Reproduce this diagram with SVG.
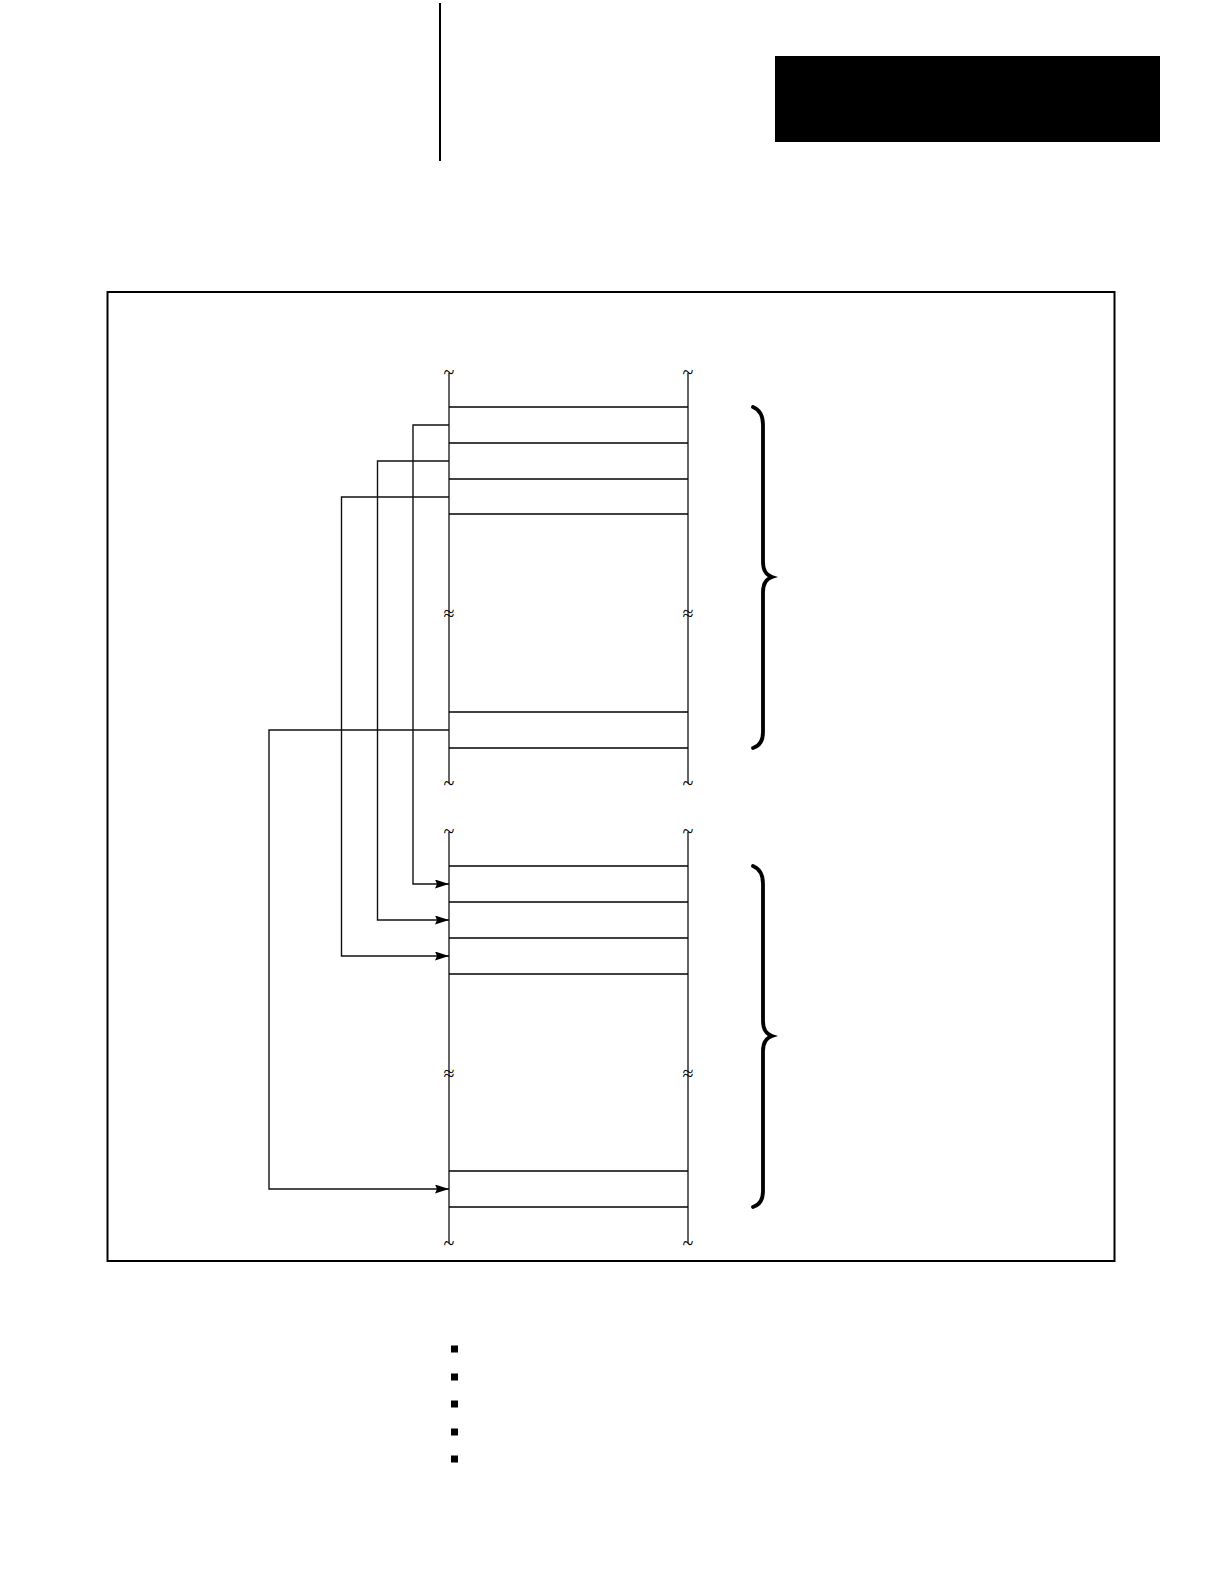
<svg xmlns="http://www.w3.org/2000/svg" width="1224" height="1584" viewBox="0 0 1224 1584">
<defs>
<style>
.rail{stroke:#222;stroke-width:1.4;fill:none}
.row{stroke:#000;stroke-width:1.6;fill:none}
.conn{stroke:#111;stroke-width:1.4;fill:none}
.brace{stroke:#000;stroke-width:3.8;fill:none;stroke-linecap:round}
.brk{font-family:"Liberation Serif","DejaVu Serif",serif;font-size:20px;fill:#000;text-anchor:middle}
</style>
<marker id="ah" viewBox="0 0 14 9" refX="14" refY="4.5" markerWidth="14" markerHeight="9" markerUnits="userSpaceOnUse" orient="auto">
<path d="M0,0 L14,4.5 L0,9 L2,4.5 z" fill="#000"/>
</marker>
</defs>
<rect width="1224" height="1584" fill="#fff"/>
<g id="header">
<line x1="440" y1="3" x2="440" y2="161" stroke="#000" stroke-width="2"/>
<rect x="775" y="56" width="385" height="86" fill="#000"/>
</g>
<g id="frame">
<rect x="107.5" y="292" width="1007" height="969" fill="none" stroke="#000" stroke-width="2"/>
</g>
<g id="upper-table">
<line class="rail" x1="449" y1="373" x2="449" y2="783"/>
<line class="rail" x1="688" y1="373" x2="688" y2="783"/>
<line class="row" x1="449" y1="407" x2="688" y2="407"/>
<line class="row" x1="449" y1="443" x2="688" y2="443"/>
<line class="row" x1="449" y1="479" x2="688" y2="479"/>
<line class="row" x1="449" y1="514" x2="688" y2="514"/>
<line class="row" x1="449" y1="712" x2="688" y2="712"/>
<line class="row" x1="449" y1="748" x2="688" y2="748"/>
<text class="brk" x="449" y="379">~</text>
<text class="brk" x="688" y="379">~</text>
<text class="brk" x="449" y="620">≈</text>
<text class="brk" x="688" y="620">≈</text>
<text class="brk" x="449" y="790">~</text>
<text class="brk" x="688" y="790">~</text>
</g>
<g id="lower-table">
<line class="rail" x1="449" y1="832" x2="449" y2="1243"/>
<line class="rail" x1="688" y1="832" x2="688" y2="1243"/>
<line class="row" x1="449" y1="866" x2="688" y2="866"/>
<line class="row" x1="449" y1="902" x2="688" y2="902"/>
<line class="row" x1="449" y1="938" x2="688" y2="938"/>
<line class="row" x1="449" y1="974" x2="688" y2="974"/>
<line class="row" x1="449" y1="1171" x2="688" y2="1171"/>
<line class="row" x1="449" y1="1207" x2="688" y2="1207"/>
<text class="brk" x="449" y="838">~</text>
<text class="brk" x="688" y="838">~</text>
<text class="brk" x="449" y="1080">≈</text>
<text class="brk" x="688" y="1080">≈</text>
<text class="brk" x="449" y="1250">~</text>
<text class="brk" x="688" y="1250">~</text>
</g>
<g id="upper-brace">
<path class="brace" d="M753,407 Q763,411 763,425 L763,562 Q763,574 772,577 Q763,580 763,592 L763,732 Q763,745 753,748"/>
</g>
<g id="lower-brace">
<path class="brace" d="M753,866 Q763,870 763,884 L763,1021 Q763,1033 772,1036 Q763,1039 763,1051 L763,1191 Q763,1204 753,1207"/>
</g>
<g id="connectors">
<polyline class="conn" points="449,425 413,425 413,884 449,884" marker-end="url(#ah)"/>
<polyline class="conn" points="449,461 377.5,461 377.5,920 449,920" marker-end="url(#ah)"/>
<polyline class="conn" points="449,497 341.5,497 341.5,956 449,956" marker-end="url(#ah)"/>
<polyline class="conn" points="449,730 269,730 269,1189 449,1189" marker-end="url(#ah)"/>
</g>
<g id="bullets" fill="#000">
<rect x="451" y="1345.5" width="7" height="7"/>
<rect x="451" y="1373.5" width="7" height="7"/>
<rect x="451" y="1400.5" width="7" height="7"/>
<rect x="451" y="1428.5" width="7" height="7"/>
<rect x="451" y="1455.5" width="7" height="7"/>
</g>
</svg>
